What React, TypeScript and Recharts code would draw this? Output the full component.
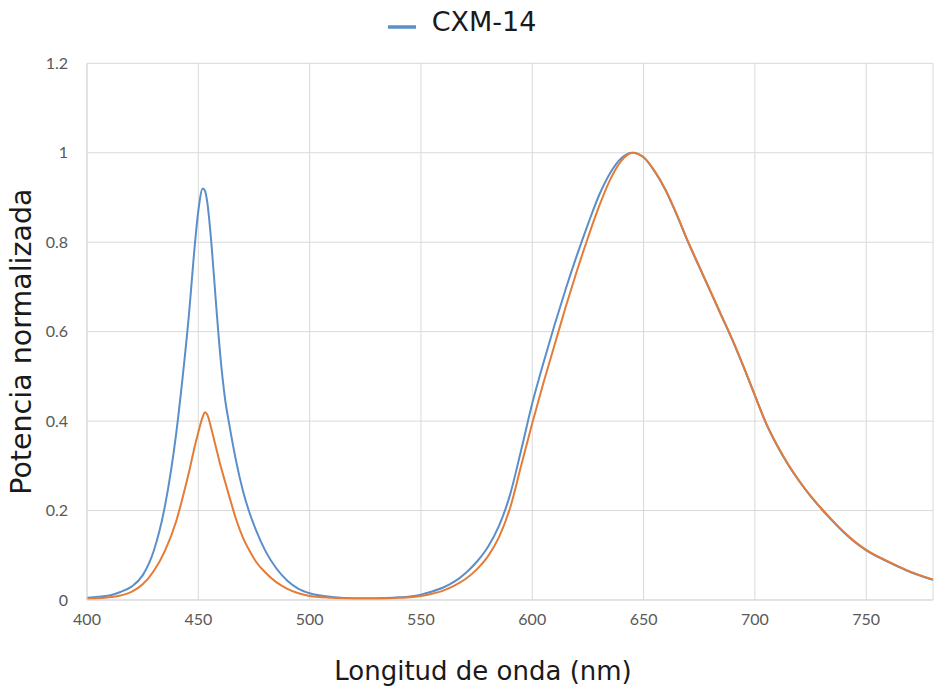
import { LineChart, Line, XAxis, YAxis, CartesianGrid, Legend } from "recharts";

// longitudes de onda (nm)
const wavelengths = [
  400, 405, 410, 415, 420, 425, 430, 435, 440, 443,
  446, 448, 450, 452, 453, 454, 456, 458, 460, 462,
  464, 467, 470, 473, 476, 480, 485, 490, 495, 500,
  510, 520, 530, 540, 545, 550, 555, 560, 565, 570,
  575, 580, 585, 590, 595, 600, 605, 610, 615, 620,
  625, 630, 635, 640, 645, 650, 655, 660, 665, 670,
  675, 680, 685, 690, 695, 700, 705, 710, 715, 720,
  725, 730, 735, 740, 745, 750, 755, 760, 765, 770,
  775, 780,
];

// CXM-14 (azul)
const cxm14 = [
  0.005, 0.007, 0.01, 0.018, 0.03, 0.055, 0.11, 0.21, 0.37, 0.5,
  0.65, 0.77, 0.87, 0.92, 0.915, 0.89, 0.79, 0.66, 0.54, 0.45,
  0.39, 0.31, 0.245, 0.195, 0.155, 0.111, 0.071, 0.043, 0.025, 0.015,
  0.007, 0.004, 0.004, 0.006, 0.008, 0.012, 0.019, 0.028, 0.041, 0.06,
  0.085, 0.118, 0.165, 0.235, 0.335, 0.44, 0.53, 0.615, 0.695, 0.77,
  0.84, 0.905, 0.955, 0.988, 1.0, 0.99, 0.958, 0.915, 0.86, 0.8,
  0.745, 0.69, 0.635, 0.58, 0.52, 0.457, 0.395, 0.345, 0.302, 0.265,
  0.232, 0.203, 0.176, 0.151, 0.129, 0.111, 0.097, 0.085, 0.073, 0.062,
  0.053, 0.045,
];

// segunda serie (naranja), sin entrada en la leyenda
const serie2 = [
  0.003, 0.004, 0.006, 0.01, 0.018, 0.035, 0.065, 0.11, 0.175, 0.23,
  0.29, 0.335, 0.375, 0.41, 0.42, 0.415, 0.38, 0.34, 0.3, 0.265,
  0.23, 0.18, 0.14, 0.11, 0.085, 0.062, 0.04, 0.025, 0.015, 0.009,
  0.005, 0.003, 0.003, 0.005, 0.006, 0.009, 0.014, 0.021, 0.032, 0.047,
  0.068, 0.097, 0.14, 0.205, 0.3, 0.395, 0.485, 0.57, 0.655, 0.735,
  0.81, 0.88, 0.94, 0.982, 1.0, 0.99, 0.959, 0.916, 0.861, 0.801,
  0.746, 0.691, 0.636, 0.581, 0.521, 0.458, 0.396, 0.346, 0.303, 0.266,
  0.233, 0.204, 0.177, 0.152, 0.13, 0.112, 0.098, 0.086, 0.074, 0.063,
  0.054, 0.046,
];

const xTicks = [400, 450, 500, 550, 600, 650, 700, 750];
const yTicks = [0, 0.2, 0.4, 0.6, 0.8, 1, 1.2];

const xTitle = "Longitud de onda (nm)";
const yTitle = "Potencia normalizada";

const data = wavelengths.map((nm, i) => ({
  nm,
  cxm14: cxm14[i],
  serie2: serie2[i],
}));

const titleFont = "'DejaVu Sans', sans-serif";
const tickStyle = { fill: "#595959", fontSize: 16, fontFamily: "Lato, sans-serif" };

const XTitle = ({ viewBox }: any) => (
  <text
    x={viewBox.x + viewBox.width / 2 - 27}
    y={viewBox.y + viewBox.height - 9}
    textAnchor="middle"
    fill="#1a1a1a"
    fontSize={26}
    fontFamily={titleFont}
  >
    {xTitle}
  </text>
);

const YTitle = ({ viewBox }: any) => {
  const cx = 22;
  const cy = viewBox.y + viewBox.height / 2 + 10;
  return (
    <text
      x={cx}
      y={cy}
      transform={`rotate(-90 ${cx} ${cy})`}
      textAnchor="middle"
      dominantBaseline="central"
      fill="#1a1a1a"
      fontSize={28.5}
      fontFamily={titleFont}
    >
      {yTitle}
    </text>
  );
};

export default function App() {
  return (
    <div style={{ position: "absolute", left: 0, top: 0, background: "#fff" }}>
      <LineChart
        width={934}
        height={689}
        data={data}
        margin={{ top: 28, right: 1, bottom: 0, left: 0 }}
      >
        <CartesianGrid stroke="#d9d9d9" />
        <XAxis
          dataKey="nm"
          type="number"
          domain={[400, 780]}
          ticks={xTicks}
          interval={0}
          height={89}
          tickLine={false}
          tickSize={0}
          tickMargin={14}
          axisLine={{ stroke: "#d9d9d9" }}
          tick={tickStyle}
          label={<XTitle />}
        />
        <YAxis
          domain={[0, 1.2]}
          ticks={yTicks}
          interval={0}
          width={87}
          tickLine={false}
          tickSize={0}
          tickMargin={19}
          axisLine={{ stroke: "#d9d9d9" }}
          tick={tickStyle}
          tickFormatter={(v) => String(v)}
          label={<YTitle />}
        />
        <Legend
          verticalAlign="top"
          align="center"
          iconSize={28}
          wrapperStyle={{ top: 6, left: 0, width: 934 }}
          formatter={(value) => (
            <span
              style={{ color: "#1a1a1a", fontSize: 27, fontFamily: titleFont, marginLeft: 12 }}
            >
              {value}
            </span>
          )}
        />
        <Line
          name="CXM-14"
          type="monotone"
          dataKey="cxm14"
          stroke="#5a8fca"
          strokeWidth={2}
          dot={false}
          legendType="plainline"
          isAnimationActive={false}
        />
        <Line
          name="Serie 2"
          type="monotone"
          dataKey="serie2"
          stroke="#e47c38"
          strokeWidth={2}
          dot={false}
          legendType="none"
          isAnimationActive={false}
        />
      </LineChart>
    </div>
  );
}
